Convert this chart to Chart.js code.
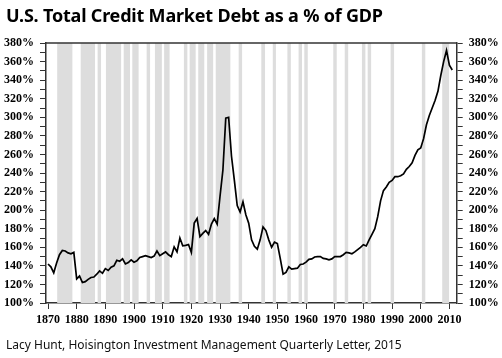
<!DOCTYPE html>
<html>
<head>
<meta charset="utf-8">
<script src="https://cdn.jsdelivr.net/npm/chart.js@4.4.1/dist/chart.umd.min.js"></script>
<style>
html,body{margin:0;padding:0;background:#fff;}
#wrap{position:relative;width:502px;height:358px;overflow:hidden;}
#c{position:absolute;left:0;top:0;}
#title{position:absolute;left:6px;top:3px;font-family:"Noto Sans",sans-serif;font-weight:bold;font-size:18px;letter-spacing:-0.2px;color:#000;white-space:nowrap;}
#foot{position:absolute;left:6px;top:336px;font-family:"Noto Sans",sans-serif;font-size:12px;color:#111;white-space:nowrap;}
</style>
</head>
<body>
<div id="wrap">
<canvas id="c" width="502" height="358"></canvas>
<div id="title">U.S. Total Credit Market Debt as a % of GDP</div>
<div id="foot">Lacy Hunt, Hoisington Investment Management Quarterly Letter, 2015</div>
</div>
<script>
const years = [];
for (let y = 1870; y <= 2011; y++) years.push(y);
const debtPct = [
 142,139,132.5,143,152,156.5,156,154,153,154.5,
 126,129,122,123,125.5,127.5,128,131,134.5,132,
 137,135,138.5,140,146,145,147.5,142,143.5,146.5,
 144,145.5,149,150,151,150,149,150.5,156,151,
 153,155,152,150,160.5,155,170,161.5,162,163,
 154.5,186,191,171.5,175,178,174,185,191,185,
 215,243,299,300,258,232,205,198,209,195,
 186,168,161,158,168,182,178,168,160,165.5,
 164,148,131,133,139,136.5,137,137.5,141.5,142,
 144,147,147.5,149.5,150,150,148,147.5,146.5,147.5,
 150,150,150,152,154.5,154,153,155,157.5,160,
 162.8,161.4,168,174,180,193,210,221,225,230,
 232,236,236,237,239,244,247,251,259,265,
 267,277,292,302,310,318,328,345,360,372,
 356,351
];
const recessionStart = [1873.2,1881.4,1887.3,1890.2,1896.4,1899.4,1904.4,1907.3,1910.5,1917.4,1919.4,1922.4,1925.5,1928.5,1936.5,1944.4,1948.4,1953.5,1957.4,1959.4,1969.5,1973.5,1979.5,1981.5,1989.5,2000.4,2007.5];
const recessionEnd   = [1878.5,1886.4,1888.5,1895.5,1898.6,1901.6,1905.6,1909.7,1912.4,1918.6,1921.5,1924.5,1927.6,1933.6,1937.7,1945.7,1949.5,1954.7,1958.6,1960.6,1970.7,1974.7,1980.7,1982.7,1990.7,2001.6,2009.9];
const xTicks = [1870,1880,1890,1900,1910,1920,1930,1940,1950,1960,1970,1980,1990,2000,2010];
const yTickLabels = ['100%','120%','140%','160%','180%','200%','220%','240%','260%','280%','300%','320%','340%','360%','380%'];

const axisColor = '#333';
const tickFont = {family:'"Liberation Serif","Times New Roman",serif', weight:'bold', size:12};

const bandPlugin = {
  id:'bands',
  beforeDatasetsDraw(chart){
    const {ctx, chartArea:a, scales:{x}} = chart;
    ctx.save();
    ctx.fillStyle = '#dddddd';
    for (let i=0;i<recessionStart.length;i++){
      const x0 = x.getPixelForValue(recessionStart[i]);
      const x1 = x.getPixelForValue(recessionEnd[i]);
      ctx.fillRect(x0, a.top, x1-x0, a.bottom-a.top);
    }
    ctx.restore();
  },
  afterDraw(chart){
    const {ctx, chartArea:a} = chart;
    ctx.save();
    ctx.strokeStyle = axisColor;
    ctx.lineWidth = 1.5;
    ctx.beginPath();
    ctx.moveTo(a.left, a.top);
    ctx.lineTo(a.right, a.top);
    ctx.stroke();
    ctx.restore();
  }
};

function yLabel(v){
  if (v % 20 !== 0) return '';
  return yTickLabels[(v-100)/20];
}

new Chart(document.getElementById('c'), {
  type:'line',
  data:{
    datasets:[{
      data: years.map((y,i)=>({x:y, y:debtPct[i]})),
      borderColor:'#000',
      borderWidth:1.7,
      pointRadius:0,
      tension:0,
      fill:false
    }]
  },
  options:{
    responsive:false,
    animation:false,
    devicePixelRatio:1,
    layout:{padding:{left:0,right:0,top:43,bottom:0}},
    plugins:{legend:{display:false}, title:{display:false}, tooltip:{enabled:false}},
    scales:{
      x:{
        type:'linear', min:1869.3, max:2012.55,
        afterBuildTicks(s){ s.ticks = xTicks.map(v=>({value:v})); },
        afterFit(s){ s.height = 55; },
        grid:{drawOnChartArea:false, drawTicks:true, tickLength:6, color:axisColor, lineWidth:1},
        border:{display:true, color:axisColor, width:1.5},
        ticks:{font:tickFont, color:'#000', padding:4, maxRotation:0, autoSkip:false, callback:(v)=>String(v)}
      },
      y:{
        position:'left', min:100, max:380,
        afterBuildTicks(s){ const t=[]; for(let v=100; v<=380; v+=10) t.push({value:v}); s.ticks=t; },
        afterFit(s){ s.width = 46; },
        grid:{drawOnChartArea:false, drawTicks:true, tickLength:6, color:axisColor, lineWidth:1},
        border:{display:true, color:axisColor, width:1.5},
        ticks:{font:tickFont, color:'#000', padding:6, autoSkip:false, callback:yLabel}
      },
      y2:{
        position:'right', min:100, max:380,
        afterBuildTicks(s){ const t=[]; for(let v=100; v<=380; v+=10) t.push({value:v}); s.ticks=t; },
        afterFit(s){ s.width = 45.3; },
        grid:{drawOnChartArea:false, drawTicks:true, tickLength:6, color:axisColor, lineWidth:1},
        border:{display:true, color:axisColor, width:1.5},
        ticks:{font:tickFont, color:'#000', padding:6, autoSkip:false, callback:yLabel}
      }
    }
  },
  plugins:[bandPlugin]
});
</script>
</body>
</html>
